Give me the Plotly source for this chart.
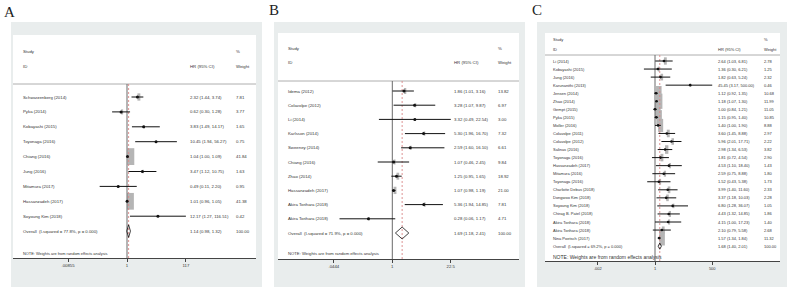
import numpy as np
import plotly.graph_objects as go

W, H = 790, 290

# ---------------- Panel A data ----------------
a_study = ["Schwarzenberg (2014)", "Pyka (2014)", "Kobayashi (2015)", "Toyonaga (2016)",
           "Chiang (2016)", "Jung (2016)", "Mitamura (2017)", "Hassanzadeh (2017)",
           "Soyoung Kim (2018)"]
a_hr = [2.32, 0.62, 3.83, 10.45, 1.04, 3.47, 0.49, 1.01, 12.17]
a_lo = [1.44, 0.30, 1.49, 1.94, 1.00, 1.12, 0.11, 0.96, 1.27]
a_hi = [3.74, 1.28, 14.17, 56.27, 1.09, 10.75, 2.20, 1.05, 116.51]
a_wt = [7.81, 3.77, 1.65, 0.75, 41.84, 1.63, 0.95, 41.38, 0.42]
a_overall_label = "Overall  (I-squared = 77.8%, p = 0.000)"
a_overall = [1.14, 0.98, 1.32]
a_tickvals = [0.00855, 1, 117]
a_ticktext = [".00855", "1", "117"]

# ---------------- Panel B data ----------------
b_study = ["Idema (2012)", "Colavolpe (2012)", "Li (2014)", "Karlsson (2014)",
           "Sweeney (2014)", "Chiang (2016)", "Zhao (2014)", "Hassanzadeh (2017)",
           "Akira Torihara (2018)", "Akira Torihara (2018)"]
b_hr = [1.86, 3.28, 3.32, 5.30, 2.59, 1.07, 1.25, 1.07, 5.36, 0.28]
b_lo = [1.01, 1.07, 0.49, 1.96, 1.60, 0.46, 0.95, 0.98, 1.94, 0.06]
b_hi = [3.16, 9.87, 22.54, 16.70, 16.10, 2.45, 1.65, 1.19, 14.85, 1.17]
b_wt = [13.82, 6.97, 3.00, 7.32, 6.61, 9.84, 18.92, 21.00, 7.81, 4.71]
b_overall_label = "Overall  (I-squared = 71.9%, p = 0.000)"
b_overall = [1.69, 1.18, 2.41]
b_tickvals = [0.0444, 1, 22.5]
b_ticktext = [".0444", "1", "22.5"]

# ---------------- Panel C data ----------------
c_study = ["Li (2014)", "Kobayashi (2015)", "Jung (2016)", "Karunanithi (2013)",
           "Jensen (2014)", "Zhao (2014)", "Gempt (2015)", "Pyka (2015)", "Moller (2016)",
           "Colavolpe (2011)", "Colavolpe (2012)", "Salinas (2016)", "Toyonaga (2016)",
           "Hassanzadeh (2017)", "Mitamura (2016)", "Toyonaga (2016)",
           "Charlotte Debus (2018)", "Dongwoo Kim (2018)", "Soyoung Kim (2018)",
           "Chirag B. Patel (2018)", "Akira Torihara (2018)", "Akira Torihara (2018)",
           "Nina Poetsch (2017)"]
c_hr = [2.64, 1.36, 1.82, 45.45, 1.12, 1.18, 1.00, 1.15, 1.40, 3.60, 5.96, 2.98, 1.81,
        4.53, 2.59, 1.52, 3.99, 3.37, 6.80, 4.43, 4.15, 2.10, 1.57]
c_lo = [1.03, 0.30, 0.63, 3.17, 0.92, 1.07, 0.84, 0.95, 1.00, 1.45, 2.01, 1.34, 0.72,
        1.10, 0.75, 0.43, 1.40, 1.18, 1.28, 1.32, 1.00, 0.79, 1.34]
c_hi = [6.81, 6.21, 5.24, 500.00, 1.35, 1.30, 1.21, 1.40, 1.90, 8.88, 17.71, 6.53, 4.54,
        18.40, 8.88, 5.38, 11.60, 10.03, 36.07, 14.85, 17.23, 5.58, 1.84]
c_wt = [2.78, 1.25, 2.32, 0.46, 10.68, 11.99, 11.05, 10.85, 8.88, 2.97, 2.22, 3.82, 2.90,
        1.43, 1.80, 1.73, 2.33, 2.28, 1.05, 1.86, 1.40, 2.68, 11.32]
c_overall_label = "Overall  (I-squared = 69.2%, p = 0.000)"
c_overall = [1.68, 1.40, 2.01]
c_tickvals = [0.002, 1, 500]
c_ticktext = [".002", "1", "500"]

note_text = "NOTE: Weights are from random effects analysis"

panels = [
    dict(letter="A", lx=9, ly=12, study=a_study, hr=a_hr, lo=a_lo, hi=a_hi, wt=a_wt,
         olab=a_overall_label, ov=a_overall, tv=a_tickvals, tt=a_ticktext,
         gray=(11, 22, 262, 287), white=(13, 35, 256, 258), x_one=127, ppd=28.5,
         row0=97, dy=14.9, study_y=51, id_y=66, hline_y=84, note_y=253,
         text_x=21, hr_x=188, wt_x=234, fs=4.3, nfs=3.9, kx=2.1, ky=2.6, dh=0.42, ms=3),
    dict(letter="B", lx=274, ly=10, study=b_study, hr=b_hr, lo=b_lo, hi=b_hi, wt=b_wt,
         olab=b_overall_label, ov=b_overall, tv=b_tickvals, tt=b_ticktext,
         gray=(274, 22, 525, 287), white=(278, 33, 519, 259), x_one=392.3, ppd=43.2,
         row0=91, dy=14.2, study_y=48, id_y=62, hline_y=81, note_y=253,
         text_x=286, hr_x=452, wt_x=496, fs=4.3, nfs=4.2, kx=1.25, ky=1.6, dh=0.42, ms=3),
    dict(letter="C", lx=537, ly=10, study=c_study, hr=c_hr, lo=c_lo, hi=c_hi, wt=c_wt,
         olab=c_overall_label, ov=c_overall, tv=c_tickvals, tt=c_ticktext,
         gray=(537, 22, 787, 287), white=(545, 33, 780, 261), x_one=655, ppd=21.2,
         row0=61, dy=8.05, study_y=39, id_y=49, hline_y=55, note_y=257,
         text_x=551, hr_x=716, wt_x=762, fs=4.0, nfs=5.0, kx=3.4, ky=4.4, dh=0.38, ms=2.6),
]

fig = go.Figure()
shapes = []
annos = []
layout_axes = {}

TXT = "#333333"
FONT = "Liberation Sans, Arial, sans-serif"

def px(x):
    return x / W

def py(y):
    return 1 - y / H

for i, p in enumerate(panels, start=1):
    xa = "x" if i == 1 else f"x{i}"
    ya = "y" if i == 1 else f"y{i}"
    xk = "xaxis" if i == 1 else f"xaxis{i}"
    yk = "yaxis" if i == 1 else f"yaxis{i}"
    gx0, gy0, gx1, gy1 = p["gray"]
    wx0, wy0, wx1, wy1 = p["white"]
    row = lambda pyy, p=p: (pyy - p["row0"]) / p["dy"]

    # backgrounds
    shapes.append(dict(type="rect", xref="paper", yref="paper", x0=px(gx0), x1=px(gx1),
                       y0=py(gy1), y1=py(gy0), fillcolor="#e9eded", line=dict(width=0), layer="below"))
    shapes.append(dict(type="rect", xref="paper", yref="paper", x0=px(wx0), x1=px(wx1),
                       y0=py(wy1), y1=py(wy0), fillcolor="#ffffff", line=dict(width=0), layer="below"))

    xr = [(wx0 - p["x_one"]) / p["ppd"], (wx1 - p["x_one"]) / p["ppd"]]
    layout_axes[xk] = dict(type="log", domain=[px(wx0), px(wx1)], range=xr, anchor=ya,
                           showgrid=False, zeroline=False, showline=True, linecolor="#444444",
                           linewidth=1, ticks="outside", ticklen=3, tickcolor="#444444",
                           tickvals=p["tv"], ticktext=p["tt"],
                           tickfont=dict(size=p["fs"], color=TXT, family=FONT), fixedrange=True)
    layout_axes[yk] = dict(domain=[py(wy1), py(wy0)], range=[row(wy1), row(wy0)], anchor=xa,
                           visible=False, fixedrange=True)

    n = len(p["study"])
    rows = list(range(n))
    orow = n

    # header line
    shapes.append(dict(type="line", xref="paper", yref=ya, x0=px(wx0), x1=px(wx1),
                       y0=row(p["hline_y"]), y1=row(p["hline_y"]),
                       line=dict(color="#9a9a9a", width=0.8), layer="below"))

    # weight boxes
    for r, h, w in zip(rows, p["hr"], p["wt"]):
        sw = p["kx"] * np.sqrt(w) / 2
        sh = p["ky"] * np.sqrt(w) / 2
        shapes.append(dict(type="rect", xref=xa, yref=ya, xsizemode="pixel", ysizemode="pixel",
                           xanchor=h, yanchor=r, x0=-sw, x1=sw, y0=-sh, y1=sh,
                           fillcolor="#b5b5b5", line=dict(width=0), layer="below"))

    # null line and overall dashed line
    shapes.append(dict(type="line", xref=xa, yref=ya, x0=1, x1=1,
                       y0=row(p["hline_y"]), y1=row(wy1),
                       line=dict(color="#6a6a6a", width=1), layer="below"))
    shapes.append(dict(type="line", xref=xa, yref=ya, x0=p["ov"][0], x1=p["ov"][0],
                       y0=row(p["hline_y"]), y1=row(wy1),
                       line=dict(color="#d98888", width=0.9, dash="2px,2px"), layer="below"))

    # CI lines
    cx, cy = [], []
    for r, lo, hi in zip(rows, p["lo"], p["hi"]):
        cx += [lo, hi, None]
        cy += [r, r, None]
    fig.add_trace(go.Scatter(x=cx, y=cy, mode="lines", line=dict(color="#111111", width=1),
                             xaxis=xa, yaxis=ya, hoverinfo="skip", showlegend=False))
    fig.add_trace(go.Scatter(x=p["hr"], y=rows, mode="markers",
                             marker=dict(color="#111111", size=p["ms"], symbol="circle"),
                             xaxis=xa, yaxis=ya, hoverinfo="skip", showlegend=False))
    # overall diamond
    est, olo, ohi = p["ov"]
    fig.add_trace(go.Scatter(x=[olo, est, ohi, est, olo],
                             y=[orow, orow - p["dh"], orow, orow + p["dh"], orow],
                             mode="lines", line=dict(color="#111111", width=0.8),
                             fill="toself", fillcolor="rgba(255,255,255,0)",
                             xaxis=xa, yaxis=ya, hoverinfo="skip", showlegend=False))

    def txt(x, y, s, size=p["fs"]):
        annos.append(dict(xref="paper", yref=ya, x=px(x), y=y, text=s, showarrow=False,
                          xanchor="left", yanchor="middle",
                          font=dict(size=size, color=TXT, family=FONT)))

    # headers
    txt(p["text_x"], row(p["study_y"]), "Study")
    txt(p["text_x"], row(p["id_y"]), "ID")
    txt(p["hr_x"], row(p["id_y"]), "HR (95% CI)")
    txt(p["wt_x"], row(p["study_y"]), "%")
    txt(p["wt_x"], row(p["id_y"]), "Weight")

    for r, s, h, lo, hi, w in zip(rows, p["study"], p["hr"], p["lo"], p["hi"], p["wt"]):
        txt(p["text_x"], r, s)
        txt(p["hr_x"], r, f"{h:.2f} ({lo:.2f}, {hi:.2f})")
        txt(p["wt_x"], r, f"{w:.2f}")
    txt(p["text_x"], orow, p["olab"])
    txt(p["hr_x"], orow, f"{est:.2f} ({olo:.2f}, {ohi:.2f})")
    txt(p["wt_x"], orow, "100.00")
    txt(p["text_x"], row(p["note_y"]), note_text, size=p["nfs"])

    # panel letter
    annos.append(dict(xref="paper", yref="paper", x=px(p["lx"]), y=py(p["ly"]), text=p["letter"],
                      showarrow=False, xanchor="center", yanchor="middle",
                      font=dict(size=15, color="#222222", family="Liberation Serif, Times New Roman, serif")))

fig.update_layout(width=W, height=H, margin=dict(l=0, r=0, t=0, b=0),
                  paper_bgcolor="#ffffff", plot_bgcolor="rgba(0,0,0,0)",
                  shapes=shapes, annotations=annos, showlegend=False, **layout_axes)

fig.write_html("out.html", config={"displayModeBar": False},
               post_script="document.body.style.margin='0px';document.body.style.overflow='hidden';")
